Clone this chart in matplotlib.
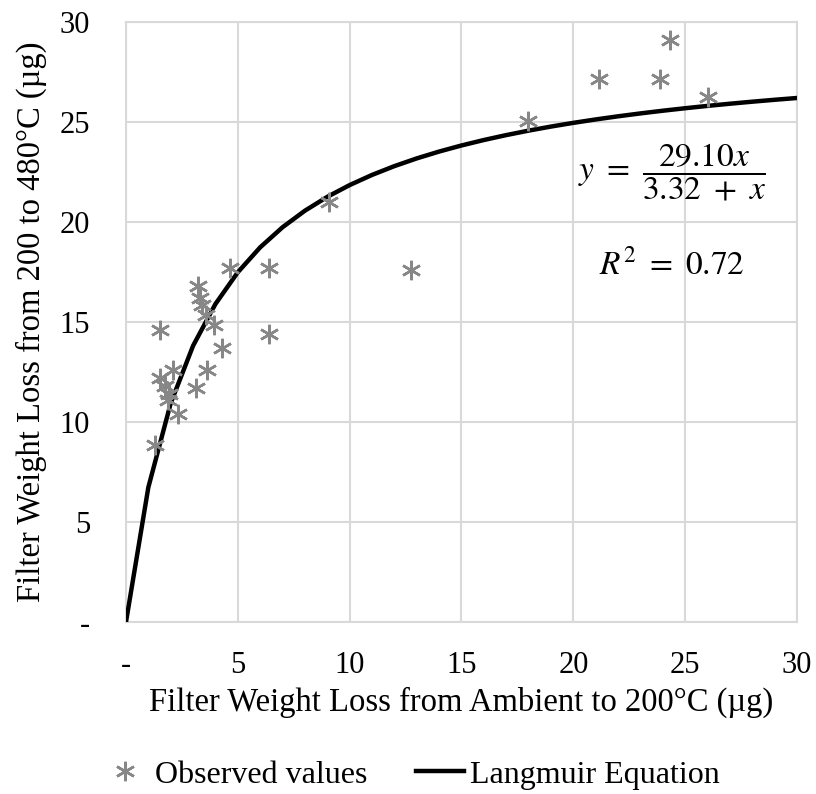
"""
Langmuir fit: filter weight loss 200-480°C vs ambient-200°C.
"""
import numpy as np
import matplotlib.pyplot as plt
from matplotlib.lines import Line2D

obs_x = [4.65, 6.39, 3.23, 3.31, 3.38, 3.58, 3.93, 1.52, 6.39, 4.28,
         2.12, 3.64, 1.52, 3.13, 1.74, 1.94, 1.89, 2.34, 1.30,
         9.07, 12.73, 17.98, 21.14, 23.87, 24.32, 26.0]
obs_y = [17.7, 17.7, 16.8, 16.2, 15.85, 15.35, 14.85, 14.6, 14.4, 13.7,
         12.6, 12.6, 12.2, 11.7, 11.8, 11.4, 11.1, 10.4, 8.85,
         21.0, 17.6, 25.07, 27.15, 27.15, 29.1, 26.27]

# Langmuir fit as given on the chart
q_max = 29.10
k_half = 3.32
fit_x = list(range(0, 31))

x_ticks = [0, 5, 10, 15, 20, 25, 30]
y_ticks = [0, 5, 10, 15, 20, 25, 30]
tick_labels = ["-", "5", "10", "15", "20", "25", "30"]

plt.rcParams["font.family"] = ["Liberation Serif", "DejaVu Serif"]
plt.rcParams["mathtext.fontset"] = "stix"

fig = plt.figure(figsize=(8.16, 7.94), dpi=100)
ax = fig.add_axes([0.1544, 0.2166, 0.8223, 0.7557])

fx = np.array(fit_x, dtype=float)
ax.plot(fx, q_max * fx / (k_half + fx), color="black", lw=3.2, zorder=3)
ax.plot(obs_x, obs_y, ls="none", marker=(6, 2, 0), ms=14, mew=1.8,
        color="#878787", zorder=4)

ax.set_xlim(0, 30)
ax.set_ylim(0, 30)
ax.set_xticks(x_ticks)
ax.set_yticks(y_ticks)
ax.set_xticklabels(tick_labels)
ax.set_yticklabels(tick_labels)
ax.tick_params(axis="both", length=0, labelsize=22)
ax.tick_params(axis="x", pad=21)
ax.tick_params(axis="y", pad=26)
ax.grid(True, color="#d9d9d9", lw=1.5)
ax.set_axisbelow(True)
for s in ax.spines.values():
    s.set_color("#d9d9d9")
    s.set_linewidth(1.5)

ax.set_xlabel("Filter Weight Loss from Ambient to 200°C (µg)", fontsize=23.5, labelpad=5)
ax.set_ylabel("Filter Weight Loss from 200 to 480°C (µg)", fontsize=23.5, labelpad=9)

ax.text(24.4, 22.5, r"$y\ =\ \dfrac{29.10x}{3.32\ +\ x}$", fontsize=24,
        ha="center", va="center")
ax.text(24.4, 17.85, r"$R^2\ =\ 0.72$", fontsize=24, ha="center", va="center")

handles = [
    Line2D([], [], ls="none", marker=(6, 2, 0), ms=14, mew=1.8, color="#878787"),
    Line2D([], [], color="black", lw=3.2),
]
fig.legend(handles, ["Observed values", "Langmuir Equation"], loc="center",
           bbox_to_anchor=(0.503, 0.024), ncol=2, frameon=False, fontsize=23,
           handlelength=1.5, handletextpad=0.2, columnspacing=1.5)

fig.savefig("out.png", dpi=100)
